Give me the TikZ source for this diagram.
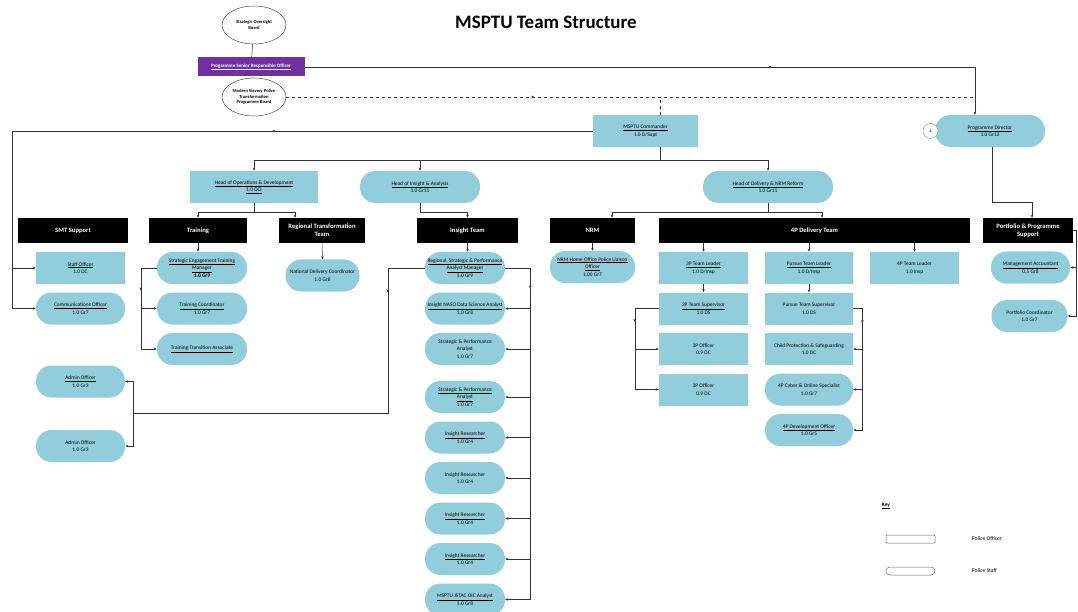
\documentclass[tikz,border=0pt]{standalone}
\usepackage{fontspec}
\setmainfont{Carlito}
\usetikzlibrary{positioning,shapes.geometric,arrows.meta,decorations.markings}

\definecolor{postblue}{RGB}{146,205,220}
\definecolor{sropurple}{RGB}{112,48,160}
\newcommand{\tinyfont}{\fontsize{5.4}{7.6}\selectfont}
\newcommand{\headfont}{\fontsize{6.6}{7.8}\selectfont\bfseries}

\begin{document}
\begin{tikzpicture}[x=1pt,y=-1pt,>={Stealth[length=3pt,width=2.6pt]},line width=0.5pt,draw=black!80,font=\tinyfont,node distance=40.5pt,
  police node/.style={rectangle,fill=postblue,minimum width=89,minimum height=32,align=center,inner sep=1pt},
  staff node/.style={police node,rounded corners=15.5pt},
  team node/.style={rectangle,fill=black,text=white,minimum height=25,align=center,inner sep=1pt,font=\headfont},
  board node/.style={ellipse,draw=black!70,fill=white,minimum width=64,minimum height=38,inner sep=0pt,align=center,font=\fontsize{4.6}{5.6}\selectfont\bfseries},
  midarrow/.style={postaction={decorate,decoration={markings,mark=at position #1 with {\arrow{>}}}}}]
            \useasboundingbox (0,0) rectangle (1078,612);

            \node[font=\fontsize{19}{22}\selectfont\bfseries] (title) at (546,22) {MSPTU Team Structure};

            % boards
            \node[board node] (sob) at (254,25) {Strategic Oversight\\Board};
            \node[rectangle,fill=sropurple,text=white,minimum width=107,minimum height=19,font=\fontsize{5}{6}\selectfont\bfseries] (psro) at (251,67) {\underline{Programme Senior Responsible Officer}};
            \node[board node] (mspb) at (254,97) {Modern Slavery Police\\Transformation\\Programme Board};

            \node[police node, minimum width=105] (cmd) at (645.5,131) {\underline{MSPTU Commander}\\1.0 D/Supt};
            \node[staff node, minimum width=110] (pd) at (990,131) {\underline{Programme Director}\\1.0 Gr13};
            \node[circle,draw=black!40,fill=white,minimum size=15,inner sep=0pt,font=\fontsize{4}{5}\selectfont\bfseries] (pdnum) at (930.5,131) {4};

            % heads
            \node[police node, minimum width=128] (hod) at (254,187) {\underline{Head of Operations \& Development}\\\underline{1.0 DCI}};
            \node[staff node, minimum width=120] (hia) at (420,187) {\underline{Head of Insight \& Analysis}\\1.0 Gr11};
            \node[staff node, minimum width=130] (hdr) at (768,187) {\underline{Head of Delivery \& NRM Reform}\\1.0 Gr11};

            % teams
            \node[team node, minimum width=110] (smt) at (73,230.5) {SMT Support};
            \node[team node, minimum width=98] (trn) at (198,230.5) {Training};
            \node[team node, minimum width=86] (rtt) at (322,230.5) {Regional Transformation\\Team};
            \node[team node, minimum width=101] (itm) at (467.5,230.5) {Insight Team};
            \node[team node, minimum width=85] (nrm) at (592.5,230.5) {NRM};
            \node[team node, minimum width=311] (dlv) at (814.5,230.5) {4P Delivery Team};
            \node[team node, minimum width=90] (pps) at (1028,230.5) {Portfolio \& Programme\\Support};

            % SMT support
            \node[police node] (stf) at (80.5,268) {\underline{Staff Officer}\\1.0 DC};
            \node[staff node] (com) [below of = stf] {\underline{Communications Officer}\\1.0 Gr7};
            \node[staff node] (ad1) at (80.5,381.5) {\underline{Admin Officer}\\1.0 Gr3};
            \node[staff node] (ad2) at (80.5,446) {Admin Officer\\1.0 Gr3};

            % training
            \node[staff node, minimum width=90] (setm) at (202,268) {\underline{Strategic Engagement Training}\\\underline{Manager}\\\textbf{1.0 Gr9}};
            \node[staff node, minimum width=90] (tco) [below of = setm] {\underline{Training Coordinator}\\1.0 Gr7};
            \node[staff node, minimum width=90] (tta) [below of = tco] {\underline{Training Transition Associate}};
            \node[staff node, minimum width=74] (ndc) at (322.5,275.5) {National Delivery Coordinator\\1.0 Gr8};

            % insight
            \node[staff node, minimum width=80] (rsp) at (465,268) {\underline{Regional, Strategic \& Performance}\\\underline{Analyst Manager}\\1.0 Gr9};
            \node[staff node, minimum width=80] (nas) [below of = rsp] {\underline{Insight NASO Data Science Analyst}\\1.0 Gr8};
            \node[staff node, minimum width=80] (spa) [below of = nas] {Strategic \& Performance\\Analyst\\1.0 Gr7};
            \node[staff node, minimum width=80] (spb) [below of = spa, yshift = -7.5] {\underline{Strategic \& Performance}\\\underline{Analyst}\\1.0 Gr7};
            \node[staff node, minimum width=80] (ir1) [below of = spb] {\underline{Insight Researcher}\\1.0 Gr4};
            \node[staff node, minimum width=80] (ir2) [below of = ir1] {Insight Researcher\\1.0 Gr4};
            \node[staff node, minimum width=80] (ir3) [below of = ir2] {\underline{Insight Researcher}\\1.0 Gr4};
            \node[staff node, minimum width=80] (ir4) [below of = ir3] {\underline{Insight Researcher}\\1.0 Gr4};
            \node[staff node, minimum width=80] (jst) [below of = ir4] {\underline{MSPTU JSTAC OIC Analyst}\\1.0 Gr8};

            % NRM and delivery
            \node[staff node, minimum width=85] (nho) at (592.5,267) {\underline{NRM Home Office Police Liaison}\\\underline{Officer}\\1.00 Gr7};
            \node[police node] (tl3) at (703.5,268) {\underline{3P Team Leader}\\1.0 D/Insp};
            \node[police node] (sv3) [below of = tl3] {\underline{3P Team Supervisor}\\1.0 DS};
            \node[police node] (of3a) [below of = sv3] {3P Officer\\0.9 DC};
            \node[police node] (of3b) [below of = of3a] {3P Officer\\0.9 DC};
            \node[police node, minimum width=88] (ptl) at (809,268) {\underline{Pursue Team Leader}\\1.0 D/Insp};
            \node[police node, minimum width=88] (psv) [below of = ptl] {Pursue Team Supervisor\\1.0 DS};
            \node[police node, minimum width=88] (cps) [below of = psv] {Child Protection \& Safeguarding\\1.0 DC};
            \node[staff node, minimum width=88] (cyb) [below of = cps] {4P Cyber \& Online Specialist\\1.0 Gr7};
            \node[staff node, minimum width=88] (dev) [below of = cyb] {\underline{4P Development Officer}\\1.0 Gr5};
            \node[police node] (tl4) at (914.5,268) {4P Team Leader\\1.0 Insp};

            % portfolio
            \node[staff node, minimum width=79] (mac) at (1030.5,267.5) {\underline{Management Accountant}\\0.5 Gr8};
            \node[staff node, minimum width=76] (pco) at (1029.5,316) {Portfolio Coordinator\\1.0 Gr7};

            % key
            \node[font=\tinyfont\bfseries] (key) at (886,506) {\underline{Key}};
            \node[draw=black!60,rounded corners=1pt,minimum width=49,minimum height=8,inner sep=0pt] (kpo) at (910.5,539) {};
            \node[draw=black!60,rounded corners=4pt,minimum width=49,minimum height=8,inner sep=0pt] (kps) [below of = kpo, node distance = 32pt] {};
            \node[font=\fontsize{5.6}{6.6}\selectfont] (kpot) [right = 33pt of kpo] {Police Officer};
            \node[font=\fontsize{5.6}{6.6}\selectfont] (kpst) [right = 33pt of kps] {Police Staff};

            % top lines
            \draw (sob) -- (psro);
            \draw (psro) -- (mspb);
            \draw[->, midarrow=0.65] (psro.east) -| ([xshift=-15pt]pd.north);
            \coordinate (dashend) at (975,97);
            \draw[dashed, midarrow=0.36] (mspb.east) -- (dashend);
            \draw[dashed] ([xshift=15pt]cmd.north) -- ([xshift=15pt]cmd.north |- dashend);

            \coordinate (smtbus) at (12,131);
            \draw[->, midarrow=0.41] (cmd.west) -- (smtbus) |- (com.west);
            \draw[->] (smtbus |- stf.west) -- (stf.west);

            \coordinate (cmdbus) at (0,160);
            \draw ([xshift=15pt]cmd.south) -- ([xshift=15pt]cmd.south |- cmdbus);
            \draw (hod.north |- cmdbus) -- (hdr.north |- cmdbus);
            \draw[->] (hod.north |- cmdbus) -- (hod.north);
            \draw[->] (hia.north |- cmdbus) -- (hia.north);
            \draw[->] (hdr.north |- cmdbus) -- (hdr.north);

            \draw[->] ([xshift=2pt]pd.south) -- ++(0,55) -| ([xshift=4pt]pps.north);

            % heads to teams
            \coordinate (hodbus) at (0,212);
            \draw (hod.south) -- (hod.south |- hodbus);
            \draw (trn.north |- hodbus) -- ([xshift=-27pt]rtt.north |- hodbus);
            \draw[->] (trn.north |- hodbus) -- (trn.north);
            \draw[->] ([xshift=-27pt]rtt.north |- hodbus) -- ([xshift=-27pt]rtt.north);
            \draw[->] (hia.south) -- ++(0,9) -| (itm.north);
            \draw (hdr.south) -- (hdr.south |- hodbus);
            \draw ([xshift=19.5pt]nrm.north |- hodbus) -- ([xshift=7.5pt]dlv.north |- hodbus);
            \draw[->] ([xshift=19.5pt]nrm.north |- hodbus) -- ([xshift=19.5pt]nrm.north);
            \draw[->] ([xshift=7.5pt]dlv.north |- hodbus) -- ([xshift=7.5pt]dlv.north);

            % teams to posts
            \draw[->] (trn.south) -- (trn.south |- setm.north);
            \draw[->] (rtt.south) -- (ndc.north);
            \draw[->] (itm.south) -- (itm.south |- rsp.north);
            \draw[->] (nrm.south) -- (nho.north);
            \foreach \n in {tl3,ptl,tl4}
                \draw[->] (dlv.south -| \n.north) -- (\n.north);
            \draw[->] (tl3) -- (sv3);
            \draw[->] (ptl) -- (psv);

            \draw[->, midarrow=0.34] (setm.west) -- ++(-16,0) |- (tta.west);
            \draw[->] ([xshift=-16pt]setm.west) |- (tco.west);

            \coordinate (admbus) at (133,413.5);
            \draw[midarrow=0.14] (rsp.west) -- ++(-37,0) |- (admbus);
            \draw[->] (admbus) |- (ad1.east);
            \draw[->] (admbus) |- (ad2.east);

            \draw[->, midarrow=0.12] (rsp.east) -- ++(25,0) |- (jst.east);
            \foreach \n in {nas,spa,spb,ir1,ir2,ir3,ir4}
                \draw[->] ([xshift=25pt]rsp.east) |- (\n.east);

            \draw[->, midarrow=0.29] (sv3.west) -- ++(-24,0) |- (of3b.west);
            \draw[->] ([xshift=-24pt]sv3.west) |- (of3a.west);

            \draw[->, midarrow=0.17] (psv.east) -- ++(9,0) |- (dev.east);
            \foreach \n in {cps,cyb}
                \draw[->] ([xshift=9pt]psv.east) |- (\n.east);

            \draw[->] (pps.east) -- ++(3,0) |- (mac.east);
            \draw[->] ([xshift=3pt]pps.east) |- (pco.east);
\end{tikzpicture}
\end{document}
